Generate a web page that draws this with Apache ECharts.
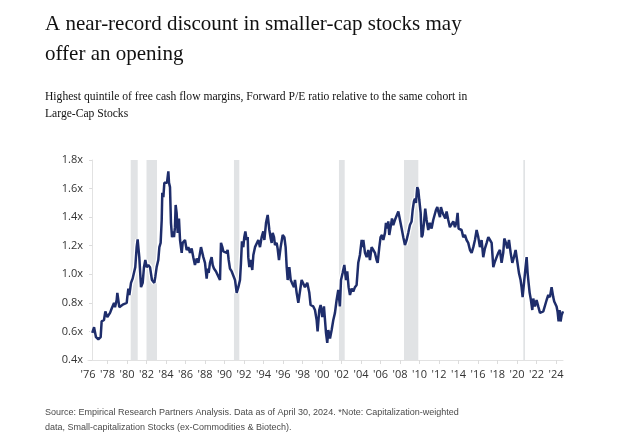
<!DOCTYPE html>
<html>
<head>
<meta charset="utf-8">
<script src="https://cdn.jsdelivr.net/npm/echarts@6/dist/echarts.min.js"></script>
<style>
html,body{margin:0;padding:0;background:#fff;}
#chart{width:640px;height:443px;}
</style>
</head>
<body>
<div id="chart"></div>
<script>
const years = [
1976.44,1976.62,1976.82,1977.06,1977.16,1977.30,1977.40,1977.64,1977.78,1977.98,
1978.26,1978.43,1978.67,1978.77,1978.94,1979.01,1979.15,1979.21,1979.62,1979.97,
1980.03,1980.14,1980.24,1980.41,1980.58,1980.72,1980.85,1980.99,1981.09,1981.26,
1981.44,1981.61,1981.74,1981.88,1982.02,1982.19,1982.36,1982.56,1982.80,1982.91,
1983.04,1983.21,1983.32,1983.45,1983.56,1983.62,1983.73,1983.83,1984.00,1984.10,
1984.24,1984.31,1984.41,1984.51,1984.62,1984.75,1984.82,1984.92,1984.99,1985.09,
1985.20,1985.33,1985.44,1985.61,1985.71,1985.95,1986.12,1986.29,1986.46,1986.63,
1986.80,1986.97,1987.15,1987.32,1987.49,1987.59,1987.73,1987.83,1988.00,1988.17,
1988.27,1988.38,1988.51,1988.68,1988.79,1988.92,1989.13,1989.37,1989.54,1989.64,
1989.78,1989.88,1990.05,1990.22,1990.32,1990.43,1990.56,1990.74,1990.91,1991.08,
1991.25,1991.42,1991.59,1991.69,1991.79,1991.93,1992.03,1992.14,1992.27,1992.38,
1992.44,1992.55,1992.68,1992.85,1992.96,1993.13,1993.30,1993.47,1993.64,1993.81,
1993.98,1994.09,1994.26,1994.43,1994.60,1994.74,1994.84,1994.94,1995.08,1995.18,
1995.35,1995.45,1995.59,1995.76,1995.97,1996.14,1996.27,1996.38,1996.48,1996.65,
1996.79,1996.92,1997.13,1997.23,1997.40,1997.57,1997.74,1997.91,1998.25,1998.49,
1998.70,1998.83,1999.11,1999.28,1999.45,1999.55,1999.72,1999.86,2000.03,2000.20,
2000.30,2000.41,2000.54,2000.65,2000.82,2000.99,2001.16,2001.33,2001.50,2001.67,
2001.84,2001.95,2002.12,2002.29,2002.46,2002.59,2002.73,2002.87,2003.04,2003.21,
2003.38,2003.55,2003.72,2003.89,2004.07,2004.17,2004.24,2004.41,2004.58,2004.75,
2004.92,2005.09,2005.26,2005.43,2005.60,2005.71,2005.88,2006.01,2006.15,2006.29,
2006.46,2006.56,2006.70,2006.80,2006.90,2007.04,2007.18,2007.31,2007.48,2007.65,
2007.83,2008.00,2008.17,2008.34,2008.51,2008.68,2008.85,2009.02,2009.19,2009.30,
2009.43,2009.53,2009.64,2009.77,2009.88,2009.98,2010.12,2010.22,2010.32,2010.46,
2010.59,2010.73,2010.90,2011.07,2011.24,2011.41,2011.59,2011.69,2011.83,2011.93,
2012.10,2012.20,2012.37,2012.51,2012.65,2012.78,2012.95,2013.12,2013.30,2013.47,
2013.64,2013.81,2013.91,2014.01,2014.15,2014.32,2014.49,2014.66,2014.83,2015.00,
2015.18,2015.35,2015.52,2015.69,2015.86,2016.03,2016.20,2016.37,2016.54,2016.71,
2016.89,2017.06,2017.23,2017.40,2017.57,2017.74,2017.91,2018.08,2018.25,2018.42,
2018.59,2018.70,2018.87,2019.01,2019.18,2019.35,2019.52,2019.69,2019.86,2020.03,
2020.20,2020.37,2020.47,2020.58,2020.75,2020.88,2020.99,2021.09,2021.19,2021.30,
2021.43,2021.57,2021.67,2021.84,2022.01,2022.18,2022.36,2022.53,2022.70,2022.87,
2023.04,2023.21,2023.38,2023.55,2023.72,2023.82,2023.93,2024.06,2024.16,2024.27,
2024.37,2024.47,2024.58,2024.72
];
const values = [
0.59,0.63,0.56,0.545,0.54,0.56,0.67,0.68,0.74,0.70,
0.73,0.76,0.80,0.77,0.82,0.87,0.86,0.77,0.79,0.80,
0.84,0.90,0.855,0.94,0.97,0.96,1.05,1.19,1.245,1.12,
0.91,0.94,1.05,1.10,1.05,1.065,1.05,0.96,0.94,0.985,
1.05,1.10,1.19,1.22,1.38,1.57,1.54,1.64,1.65,1.64,
1.72,1.64,1.61,1.36,1.26,1.30,1.26,1.33,1.485,1.43,
1.29,1.39,1.24,1.15,1.22,1.24,1.17,1.19,1.15,1.18,
1.12,1.065,1.11,1.08,1.15,1.19,1.18,1.12,1.08,0.97,
1.04,1.01,1.08,1.12,1.065,1.04,1.02,0.985,0.96,1.22,
1.19,1.16,1.17,1.15,1.17,1.10,1.04,1.02,1.01,0.96,
0.87,0.91,0.96,1.08,1.23,1.19,1.26,1.30,1.24,1.26,
1.12,1.05,1.10,1.03,1.135,1.19,1.18,1.24,1.19,1.26,
1.30,1.24,1.36,1.415,1.31,1.25,1.22,1.29,1.26,1.205,
1.22,1.18,1.10,1.19,1.275,1.26,1.19,1.05,0.96,1.05,
0.96,0.94,0.91,0.96,0.87,0.80,0.80,0.96,0.91,0.94,
0.87,0.785,0.775,0.75,0.68,0.60,0.75,0.785,0.70,0.775,
0.785,0.59,0.52,0.61,0.55,0.61,0.68,0.73,0.82,0.89,
0.775,0.96,1.01,1.065,0.96,1.02,0.91,0.855,0.90,0.88,
0.91,0.925,1.08,1.135,1.24,1.19,1.24,1.15,1.12,1.17,
1.10,1.19,1.17,1.15,1.10,1.08,1.19,1.26,1.275,1.24,
1.29,1.36,1.32,1.37,1.275,1.33,1.39,1.345,1.38,1.37,
1.44,1.38,1.32,1.26,1.205,1.24,1.29,1.345,1.37,1.45,
1.51,1.53,1.50,1.61,1.59,1.52,1.43,1.26,1.275,1.36,
1.46,1.38,1.31,1.36,1.32,1.38,1.39,1.45,1.47,1.44,
1.40,1.47,1.43,1.44,1.39,1.44,1.38,1.33,1.32,1.37,
1.33,1.37,1.43,1.32,1.32,1.31,1.26,1.275,1.24,1.22,
1.17,1.15,1.19,1.24,1.31,1.26,1.19,1.24,1.12,1.18,
1.22,1.26,1.24,1.22,1.05,1.09,1.08,1.15,1.17,1.08,
1.15,1.25,1.22,1.18,1.24,1.15,1.08,1.12,1.17,1.17,
1.01,0.96,0.91,0.84,0.96,1.05,1.12,1.01,0.94,0.87,
0.82,0.75,0.83,0.775,0.82,0.775,0.73,0.74,0.74,0.75,
0.82,0.855,0.84,0.91,0.84,0.81,0.80,0.775,0.74,0.67,
0.75,0.67,0.715,0.74
];
const recessions = [[1980.38,1981.10],[1982.00,1983.08],[1990.97,1991.52],[2001.74,2002.33],[2008.41,2009.88],[2020.65,2020.82]];
const xTickYears = [1976,1978,1980,1982,1984,1986,1988,1990,1992,1994,1996,1998,2000,2002,2004,2006,2008,2010,2012,2014,2016,2018,2020,2022,2024];
const yTicks = [0.4,0.6,0.8,1.0,1.2,1.4,1.6,1.8];

const titleText = 'A near-record discount in smaller-cap stocks may\noffer an opening';
const subtitleText = 'Highest quintile of free cash flow margins, Forward P/E ratio relative to the same cohort in\nLarge-Cap Stocks';
const sourceText = 'Source: Empirical Research Partners Analysis. Data as of April 30, 2024. *Note: Capitalization-weighted\ndata, Small-capitalization Stocks (ex-Commodities & Biotech).';

const seriesData = years.map((y, i) => [y, values[i]]);
const chart = echarts.init(document.getElementById('chart'), null, {renderer: 'canvas'});
chart.setOption({
  animation: false,
  backgroundColor: '#ffffff',
  title: [
    {
      text: titleText,
      left: 45, top: 9,
      padding: 0,
      itemGap: 19,
      textStyle: {fontFamily: 'Liberation Serif', fontSize: 21, fontWeight: 'normal', color: '#111', lineHeight: 30},
      subtext: subtitleText,
      subtextStyle: {fontFamily: 'Liberation Serif', fontSize: 11.6, color: '#111', lineHeight: 17}
    },
    {
      text: sourceText,
      left: 45, top: 405,
      padding: 0,
      textStyle: {fontFamily: 'Liberation Sans', fontSize: 9, fontWeight: 'normal', color: '#4a4a4a', lineHeight: 15}
    }
  ],
  grid: {left: 88, right: 77, top: 160, bottom: 83, containLabel: false},
  xAxis: {
    type: 'value', min: 1976, max: 2024.72,
    axisLine: {show: true, lineStyle: {color: '#e2e2e2', width: 1}},
    axisTick: {show: true, length: 4, lineStyle: {color: '#dcdcdc'}, customValues: xTickYears.slice(1)},
    axisLabel: {
      customValues: xTickYears,
      formatter: v => "'" + String(Math.round(v)).slice(2),
      color: '#333', fontFamily: 'Open Sans', fontSize: 11, margin: 9
    },
    splitLine: {show: false}
  },
  yAxis: {
    type: 'value', min: 0.4, max: 1.8, interval: 0.2, offset: -4,
    axisLine: {show: true, lineStyle: {color: '#e2e2e2', width: 1}},
    axisTick: {show: true, length: 3, lineStyle: {color: '#dcdcdc'}},
    axisLabel: {formatter: v => v.toFixed(1) + 'x', color: '#333', fontFamily: 'Open Sans', fontSize: 11, margin: 9},
    splitLine: {show: false}
  },
  series: [
    {
      type: 'line', data: [], z: 1, silent: true,
      markArea: {
        silent: true,
        itemStyle: {color: '#e1e3e5'},
        data: recessions.map(r => [{xAxis: r[0]}, {xAxis: r[1]}])
      }
    },
    {
      type: 'line', data: seriesData, showSymbol: false, symbol: 'none', z: 2, silent: true,
      lineStyle: {color: '#ffffff', width: 5}
    },
    {
      type: 'line', data: seriesData, showSymbol: false, symbol: 'none', z: 3, silent: true,
      lineStyle: {color: '#1e2d6b', width: 2.5}
    }
  ]
});
</script>
</body>
</html>
